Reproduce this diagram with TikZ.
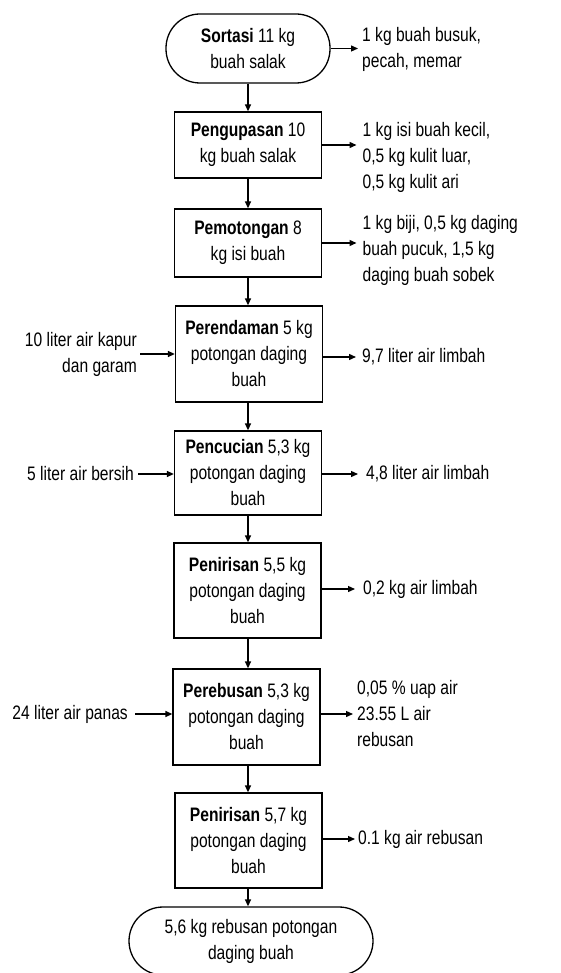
\documentclass[tikz,border=0pt]{standalone}
\usepackage{fontspec}
\setmainfont{Liberation Sans}[FakeStretch=0.8]
\usetikzlibrary{arrows.meta}
\begin{document}
\begin{tikzpicture}[x=1pt,y=-1pt,
  every node/.style={font=\fontsize{19.5}{26}\selectfont, inner sep=2pt},
  procbox/.style={draw, line width=1.3pt, align=center, inner sep=0pt, minimum width=147pt},
  term/.style={draw, line width=1.3pt, align=center, rounded corners=34pt, inner sep=0pt},
  lbl/.style={align=left, anchor=west},
  lblr/.style={align=right, anchor=east},
  flow/.style={-{Triangle[length=7pt,width=6pt]}, line width=1.3pt}]
\useasboundingbox (0,0) rectangle (561,973);
\clip (0,0) rectangle (561,973);
% main chain
\node[term, minimum width=164pt, minimum height=69pt] (sort) at (248,48.5) {\textbf{Sortasi} 11 kg\\buah salak};
\node[procbox, minimum height=66pt] (peng) at (248,145) {\textbf{Pengupasan} 10\\kg buah salak};
\node[procbox, minimum height=68pt] (pemo) at (248,243) {\textbf{Pemotongan} 8\\kg isi buah};
\node[procbox, minimum height=96pt] (pere) at (249,354) {\textbf{Perendaman} 5 kg\\potongan daging\\buah};
\node[procbox, minimum height=84pt] (pencu) at (248,473) {\textbf{Pencucian} 5,3 kg\\potongan daging\\buah};
\node[procbox, minimum height=95pt] (peni) at (247.5,590.5) {\textbf{Penirisan} 5,5 kg\\potongan daging\\buah};
\node[procbox, minimum height=96pt] (pereb) at (246.5,717) {\textbf{Perebusan} 5,3 kg\\potongan daging\\buah};
\node[procbox, minimum height=95pt] (penid) at (248.5,840.5) {\textbf{Penirisan} 5,7 kg\\potongan daging\\buah};
\node[term, minimum width=244pt, minimum height=68pt] (fin) at (251,941) {5,6 kg rebusan potongan\\daging buah};
% vertical flow
\draw[flow] (sort.south) -- (sort.south |- peng.north);
\draw[flow] (sort.south |- peng.south) -- (sort.south |- pemo.north);
\draw[flow] (sort.south |- pemo.south) -- (sort.south |- pere.north);
\draw[flow] (sort.south |- pere.south) -- (sort.south |- pencu.north);
\draw[flow] (sort.south |- pencu.south) -- (sort.south |- peni.north);
\draw[flow] (sort.south |- peni.south) -- (sort.south |- pereb.north);
\draw[flow] (sort.south |- pereb.south) -- (sort.south |- penid.north);
\draw[flow] (sort.south |- penid.south) -- (sort.south |- fin.north);
% outputs
\node[lbl] (o1) at (360,49.5) {1 kg buah busuk,\\pecah, memar};
\node[lbl] (o2) at (360.5,157) {1 kg isi buah kecil,\\0,5 kg kulit luar,\\0,5 kg kulit ari};
\node[lbl] (o3) at (360.5,250) {1 kg biji, 0,5 kg daging\\buah pucuk, 1,5 kg\\daging buah sobek};
\node[lbl] (o4) at (360,357) {9,7 liter air limbah};
\node[lbl] (o5) at (364,474) {4,8 liter air limbah};
\node[lbl] (o6) at (361,589) {0,2 kg air limbah};
\node[lbl] (o7) at (355,714) {0,05 \% uap air\\23.55 L air\\rebusan};
\node[lbl] (o8) at (356,839) {0.1 kg air rebusan};
\draw[flow, shorten >=2pt] (sort.east) -- (sort.east -| o1.west);
\draw[flow, shorten >=4pt] (peng.east) -- (peng.east -| o2.west);
\draw[flow, shorten >=4pt] (pemo.east) -- (pemo.east -| o3.west);
\draw[flow, shorten >=4pt] (o4.west -| pere.east) -- (o4.west);
\draw[flow, shorten >=6pt] (o5.west -| pencu.east) -- (o5.west);
\draw[flow, shorten >=6pt] (o6.west -| peni.east) -- (o6.west);
\draw[flow, shorten >=2pt] (o7.west -| pereb.east) -- (o7.west);
\draw[flow, shorten >=1pt] (o8.west -| penid.east) -- (o8.west);
% inputs
\node[lblr] (i4) at (139,354) {10 liter air kapur\\dan garam};
\node[lblr] (i5) at (136,474) {5 liter air bersih};
\node[lblr] (i7) at (130,714) {24 liter air panas};
\draw[flow, shorten <=1pt] (i4.east) -- (i4.east -| pere.west);
\draw[flow, shorten <=2pt] (i5.east) -- (i5.east -| pencu.west);
\draw[flow, shorten <=5pt] (i7.east) -- (i7.east -| pereb.west);
\end{tikzpicture}
\end{document}
